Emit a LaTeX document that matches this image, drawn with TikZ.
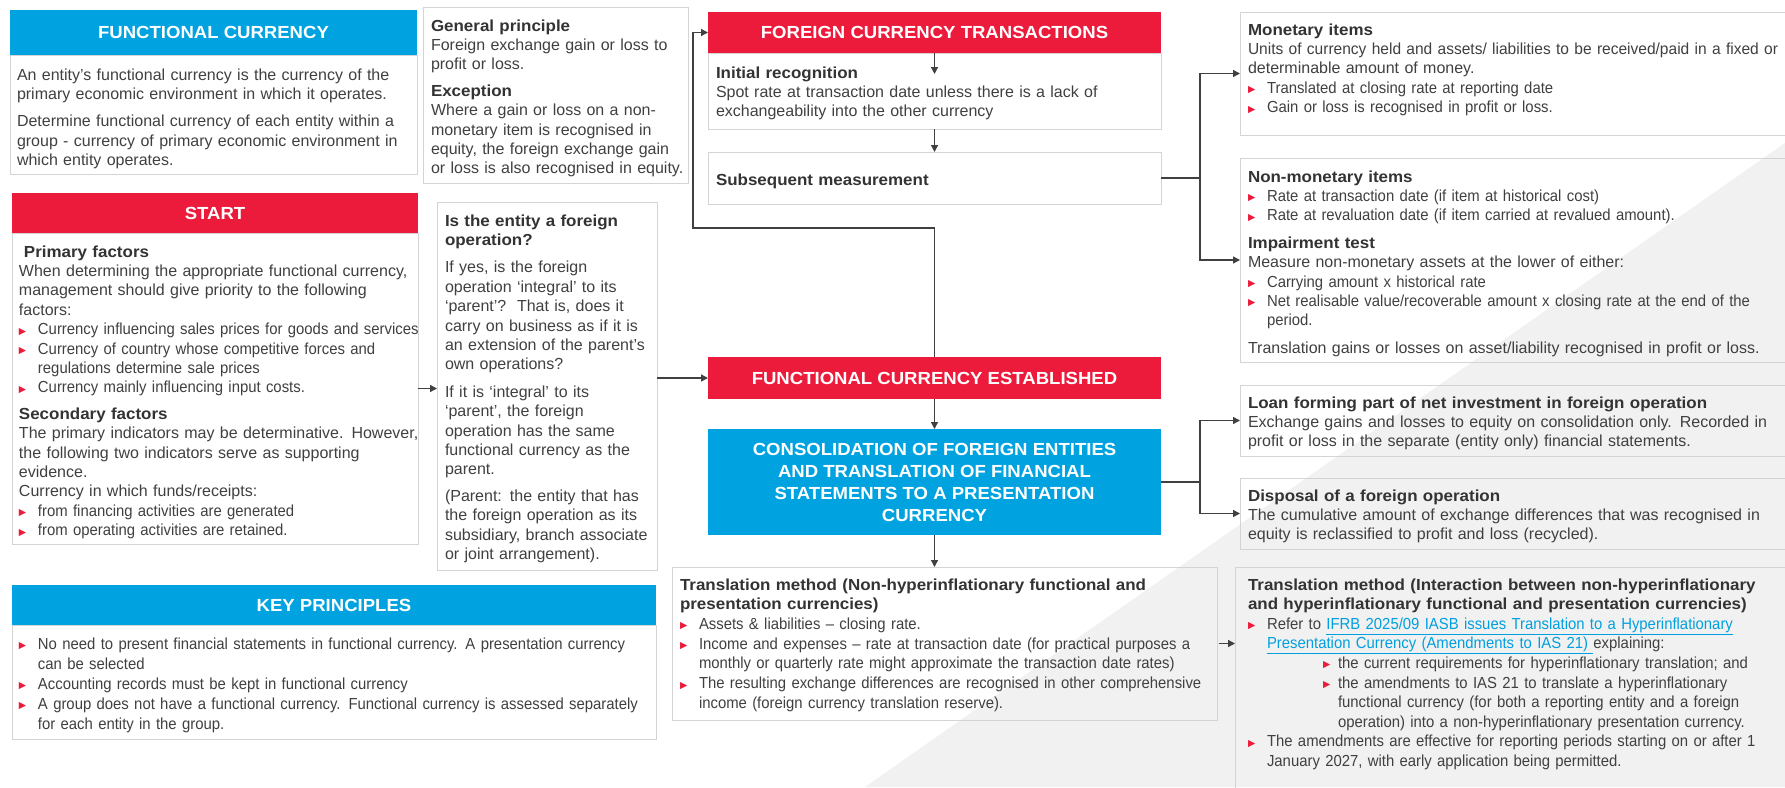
\documentclass[tikz,border=0pt]{standalone}
\usepackage{fontspec}
\setmainfont{Liberation Sans}[BoldFeatures={FakeStretch=1.06}]
\newfontfamily\condf[FakeStretch=0.93]{Liberation Sans}
\newfontfamily\narf[FakeStretch=0.97]{Liberation Sans}
\newfontfamily\symf{DejaVu Sans}
\usetikzlibrary{arrows.meta}
\definecolor{bred}{RGB}{237,27,59}
\definecolor{bblue}{RGB}{0,163,224}
\definecolor{tcol}{RGB}{64,64,64}
\definecolor{hcol}{RGB}{51,51,51}
\definecolor{bord}{RGB}{212,212,212}
\definecolor{bgg}{RGB}{241,241,241}
\definecolor{acol}{RGB}{64,64,64}
\definecolor{lcol}{RGB}{0,160,222}
\newcommand{\mybul}{\raisebox{0.5pt}{\textcolor{bred}{\symf\fontsize{9.5}{9.5}\selectfont ▶}}}
\newlength{\bhang}\setlength{\bhang}{19pt}
\newcommand{\bitemf}[1]{\hangindent=\bhang\hangafter=1\noindent\makebox[\bhang][l]{\mybul}{\condf #1}\par}
\newcommand{\bitem}[1]{\par\bitemf{#1}}
\newcommand{\sitem}[1]{\par\hangindent=90pt\hangafter=1\noindent\hspace*{75pt}\makebox[15pt][l]{\mybul}{\condf #1}\par}
\newcommand{\hd}[1]{{\bfseries\color{hcol}#1}}
\newcommand{\gap}[1]{\par\vspace{#1}}
\newcommand{\lnk}[1]{\textcolor{lcol}{\underline{#1}}}
\begin{document}
\begin{tikzpicture}[x=1pt,y=-1pt,
  framebox/.style={draw=bord, line width=1pt, inner sep=0pt, outer sep=0pt, anchor=north west},
  headbox/.style={fill=#1, draw=none, inner sep=0pt, outer sep=0pt, anchor=north west},
  hdtxt/.style={text=white, font=\fontsize{17.5}{22}\selectfont\bfseries, inner sep=0pt, align=center},
  arr/.style={draw=acol, line width=1.3pt, -{Triangle[length=7pt,width=7pt]}},
  ln/.style={draw=acol, line width=1.3pt},
  txt/.style={anchor=base west, inner sep=0pt, outer sep=0pt, text width=#1, align=left, text=tcol, font=\fontsize{16}{19.4}\selectfont}]
\fill[white] (0,0) rectangle (1785,787);
\useasboundingbox (0,0) rectangle (1785,787);
\fill[bgg] (865,787) -- (1785,143) -- (1785,787) -- cycle;

% boxes
\node[framebox, minimum width=407pt, minimum height=119pt] (fcB) at (10,55) {};
\node[headbox=bblue, minimum width=407pt, minimum height=45pt] (fcH) at (10,10) {};
\node[framebox, minimum width=265pt, minimum height=176pt] (gp) at (423,7) {};
\node[framebox, minimum width=453pt, minimum height=76pt] (init) at (708,53) {};
\node[headbox=bred, minimum width=453pt, minimum height=41pt] (fctH) at (708,12) {};
\node[framebox, minimum width=453pt, minimum height=52pt] (subs) at (708,152) {};
\node[framebox, minimum width=546pt, minimum height=123pt] (mon) at (1240,12) {};
\node[framebox, minimum width=546pt, minimum height=204pt] (nonmon) at (1240,158) {};
\node[framebox, minimum width=406pt, minimum height=311pt] (stB) at (12,233) {};
\node[headbox=bred, minimum width=406pt, minimum height=40pt] (stH) at (12,193) {};
\node[framebox, minimum width=220pt, minimum height=368pt] (fop) at (437,202) {};
\node[headbox=bred, minimum width=453pt, minimum height=42pt] (fceH) at (708,357) {};
\node[headbox=bblue, minimum width=453pt, minimum height=106pt] (cons) at (708,429) {};
\node[framebox, minimum width=546pt, minimum height=71pt] (loan) at (1240,385) {};
\node[framebox, minimum width=546pt, minimum height=71pt] (disp) at (1240,478) {};
\node[framebox, minimum width=545pt, minimum height=153pt] (trans) at (672,567) {};
\node[framebox, minimum width=551pt, minimum height=225pt] (last) at (1235,567) {};
\node[framebox, minimum width=644pt, minimum height=114pt] (keyB) at (12,625) {};
\node[headbox=bblue, minimum width=644pt, minimum height=40pt] (keyH) at (12,585) {};

% header texts
\node[hdtxt] (fcHt) at (fcH.center) {FUNCTIONAL CURRENCY};
\node[hdtxt] (fctHt) at (fctH.center) {FOREIGN CURRENCY TRANSACTIONS};
\node[hdtxt] (stHt) at (stH.center) {START};
\node[hdtxt] (fceHt) at (fceH.center) {FUNCTIONAL CURRENCY ESTABLISHED};
\node[hdtxt] (keyHt) at (keyH.center) {KEY PRINCIPLES};
\node[hdtxt] (consT) at (cons.center) {CONSOLIDATION OF FOREIGN ENTITIES\\AND TRANSLATION OF FINANCIAL\\STATEMENTS TO A PRESENTATION\\CURRENCY};

% body texts
\node[txt=400pt] (fcT) at (17,80) {An entity’s functional currency is the currency of the\\
primary economic environment in which it operates.\gap{8pt}
Determine functional currency of each entity within a\\
group - currency of primary economic environment in\\
which entity operates.};

\node[txt=256pt] (gpT) at (431,31) {\hd{General principle}\\
Foreign exchange gain or loss to\\
profit or loss.\gap{7pt}
\hd{Exception}\\
Where a gain or loss on a non-\\
monetary item is recognised in\\
equity, the foreign exchange gain\\
or loss is also recognised in equity.};

\node[txt=440pt] (initT) at (716,78) {\hd{Initial recognition}\\
Spot rate at transaction date unless there is a lack of\\
exchangeability into the other currency};

\node[txt=440pt] (subsT) at (716,185) {\hd{Subsequent measurement}};

\node[txt=560pt] (monT) at (1248,35) {\hd{Monetary items}\\
{\narf Units of currency held and assets/ liabilities to be received/paid in a fixed or}\\
determinable amount of money.
\bitem{Translated at closing rate at reporting date}
\bitem{Gain or loss is recognised in profit or loss.}};

\node[txt=560pt] (nonmonT) at (1248,182) {\hd{Non-monetary items}
\bitem{Rate at transaction date (if item at historical cost)}
\bitem{Rate at revaluation date (if item carried at revalued amount).}\gap{8pt}
\hd{Impairment test}\\
Measure non-monetary assets at the lower of either:
\bitem{Carrying amount x historical rate}
\bitem{Net realisable value/recoverable amount x closing rate at the end of the\newline period.}\gap{8pt}
Translation gains or losses on asset/liability recognised in profit or loss.};

\node[txt=410pt] (stT) at (19,257) {\hspace*{5pt}\hd{Primary factors}\\
When determining the appropriate functional currency,\\
management should give priority to the following\\
factors:
\bitem{Currency influencing sales prices for goods and services}
\bitem{Currency of country whose competitive forces and\newline regulations determine sale prices}
\bitem{Currency mainly influencing input costs.}\gap{7pt}
\hd{Secondary factors}\\
The primary indicators may be determinative. However,\\
the following two indicators serve as supporting\\
evidence.\\
Currency in which funds/receipts:
\bitem{from financing activities are generated}
\bitem{from operating activities are retained.}};

\node[txt=215pt] (fopT) at (445,226) {\hd{Is the entity a foreign}\\
\hd{operation?}\gap{8pt}
If yes, is the foreign\\
operation ‘integral’ to its\\
‘parent’?\ \ That is, does it\\
carry on business as if it is\\
an extension of the parent’s\\
own operations?\gap{8pt}
If it is ‘integral’ to its\\
‘parent’, the foreign\\
operation has the same\\
functional currency as the\\
parent.\gap{7pt}
(Parent: the entity that has\\
the foreign operation as its\\
subsidiary, branch associate\\
or joint arrangement).};

\node[txt=560pt] (loanT) at (1248,408) {\hd{Loan forming part of net investment in foreign operation}\\
Exchange gains and losses to equity on consolidation only. Recorded in\\
profit or loss in the separate (entity only) financial statements.};

\node[txt=560pt] (dispT) at (1248,501) {\hd{Disposal of a foreign operation}\\
The cumulative amount of exchange differences that was recognised in\\
equity is reclassified to profit and loss (recycled).};

\node[txt=535pt, font=\fontsize{16}{19.7}\selectfont] (transT) at (680,590) {\hd{Translation method (Non-hyperinflationary functional and}\\
\hd{presentation currencies)}
\bitem{Assets \& liabilities – closing rate.}
\bitem{Income and expenses – rate at transaction date (for practical purposes a\newline monthly or quarterly rate might approximate the transaction date rates)}
\bitem{The resulting exchange differences are recognised in other comprehensive\newline income (foreign currency translation reserve).}};

\node[txt=545pt, font=\fontsize{16}{19.6}\selectfont] (lastT) at (1248,590) {\hd{Translation method (Interaction between non-hyperinflationary}\\
\hd{and hyperinflationary functional and presentation currencies)}
\bitem{Refer to \lnk{IFRB 2025/09 IASB issues Translation to a Hyperinflationary}\newline \lnk{Presentation Currency (Amendments to IAS 21) }explaining:}
\sitem{the current requirements for hyperinflationary translation; and}
\sitem{the amendments to IAS 21 to translate a hyperinflationary\newline functional currency (for both a reporting entity and a foreign\newline operation) into a non-hyperinflationary presentation currency.}
\bitem{The amendments are effective for reporting periods starting on or after 1\newline January 2027, with early application being permitted.}};

\node[txt=640pt, font=\fontsize{16}{20}\selectfont] (keyT) at (19,649) {\bitemf{No need to present financial statements in functional currency. A presentation currency\newline can be selected}
\bitem{Accounting records must be kept in functional currency}
\bitem{A group does not have a functional currency. Functional currency is assessed separately\newline for each entity in the group.}};

% connectors
\coordinate (irTip) at (934.5,74);
\draw[arr] (fctH.south) -- (irTip);
\draw[arr] (init.south) -- (subs.north);
\coordinate (j1) at (1200,178);
\draw[ln] (subs.east) -- (j1);
\draw[arr] (j1) |- (mon.west);
\draw[arr] (j1) |- (nonmon.west);
\draw[arr] (stB.east) -- (stB.east -| fop.west);
\draw[arr] (fceH.west -| fop.east) -- (fceH.west);
\coordinate (lp1) at (934.5,228);
\coordinate (lp2) at (693,228);
\draw[arr] (fceH.north) -- (lp1) -- (lp2) |- (fctH.west);
\draw[arr] (fceH.south) -- (cons.north);
\coordinate (j2) at (1200,482);
\draw[ln] (cons.east) -- (j2);
\draw[arr] (j2) |- (loan.west);
\draw[arr] (j2) |- (disp.west);
\draw[arr] (cons.south) -- (cons.south |- trans.north);
\draw[arr] ([xshift=2pt]trans.east) -- (trans.east -| last.west);
\end{tikzpicture}
\end{document}
